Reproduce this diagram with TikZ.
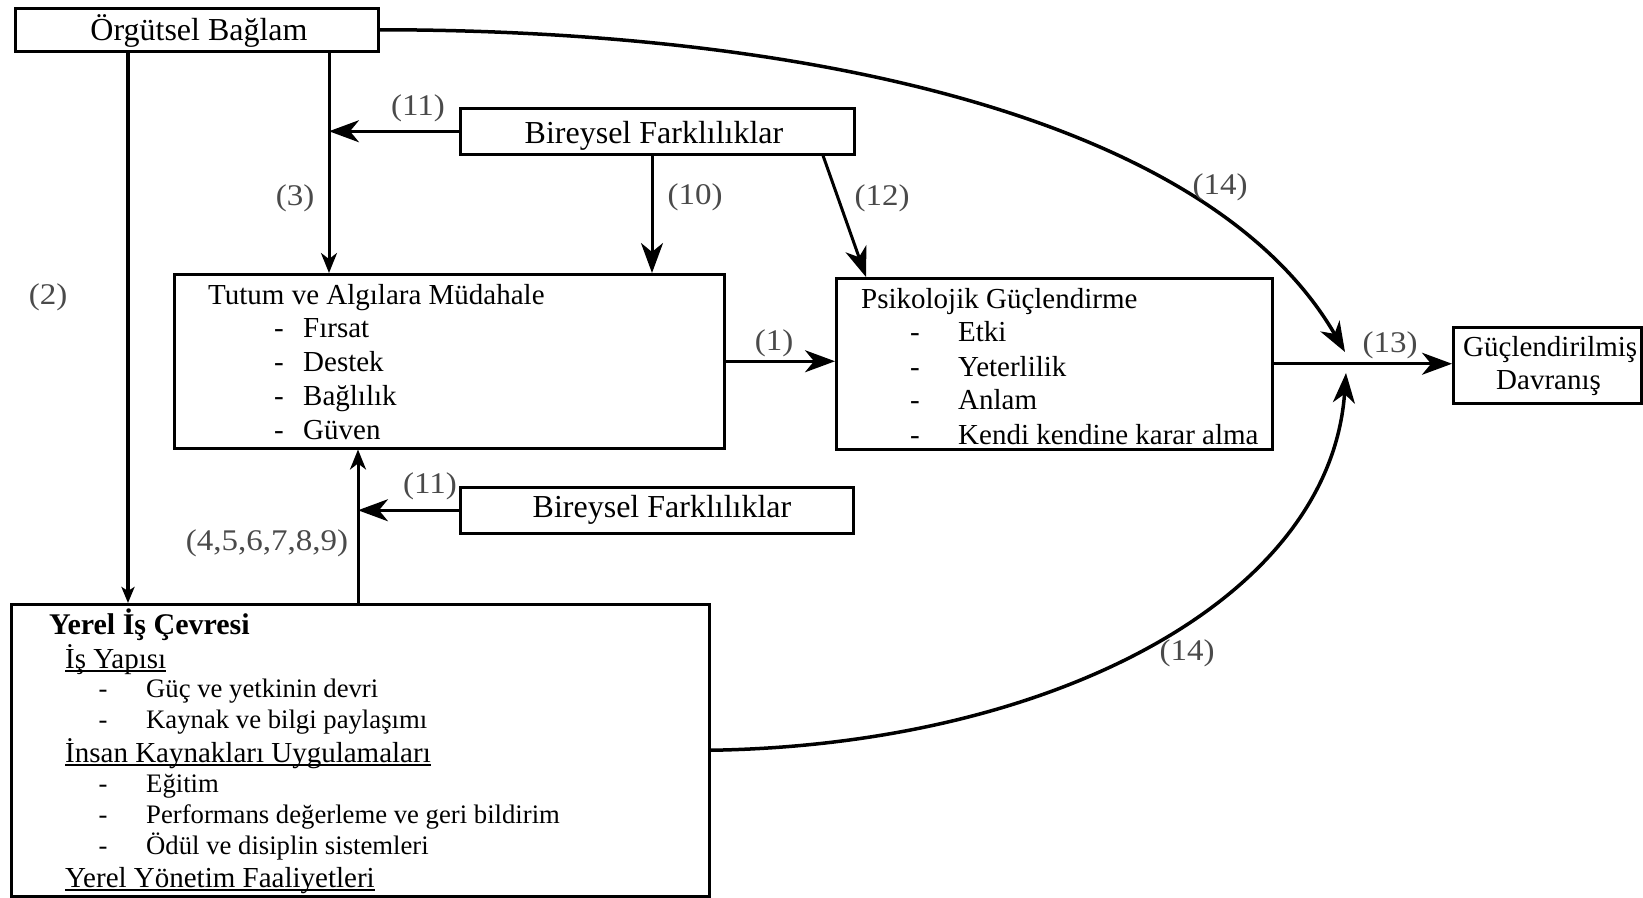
\documentclass[tikz,border=0pt]{standalone}
\usepackage{fontspec}
\setmainfont{Liberation Serif}
\usetikzlibrary{arrows.meta}
\definecolor{labc}{HTML}{4A4A4A}
\newlength\ulwidth
\newcommand\ulx[1]{\settowidth\ulwidth{#1}\rlap{\rule[-4pt]{\ulwidth}{1.8pt}}#1}
\begin{document}
\begin{tikzpicture}[x=1pt,y=-1pt,
  box/.style={draw, line width=2.5pt, inner sep=0pt, anchor=north west},
  txt/.style={inner sep=0pt, anchor=base west, font=\fontsize{29}{31}\selectfont},
  bigt/.style={inner sep=0pt, anchor=base, font=\fontsize{32}{34}\selectfont},
  smt/.style={inner sep=0pt, anchor=base west, font=\fontsize{26.7}{28}\selectfont},
  dsh/.style={inner sep=0pt, anchor=base},
  lab/.style={inner sep=0pt, text=labc, font=\fontsize{30}{32}\selectfont},
  conn/.style={line width=3pt},
  bigtip/.style={-{Stealth[length=30pt,width=22pt,inset=9pt]}},
  midtip/.style={-{Stealth[length=20pt,width=16pt,inset=6pt]}},
  smtip/.style={-{Stealth[length=16pt,width=13pt,inset=4pt]}}]
\useasboundingbox[fill=white] (0,0) rectangle (1643,897);

% ---- boxes
\node[box,minimum width=363pt,minimum height=43pt] (org) at (14,7) {};
\node[box,minimum width=394pt,minimum height=46pt] (bf1) at (459,107) {};
\node[box,minimum width=550pt,minimum height=174pt] (tut) at (173,273) {};
\node[box,minimum width=436pt,minimum height=171pt] (psy) at (835,277) {};
\node[box,minimum width=188pt,minimum height=76pt] (guc) at (1452,326) {};
\node[box,minimum width=393pt,minimum height=46pt] (bf2) at (459,486) {};
\node[box,minimum width=698pt,minimum height=292pt] (yer) at (10,603) {};

% ---- texts
\node[bigt] (orgT) at (199,40) {Örgütsel Bağlam};
\node[bigt] (bf1T) at (654,143) {Bireysel Farklılıklar};
\node[bigt] (bf2T) at (662,517) {Bireysel Farklılıklar};

\node[txt] (tutT) at (208,304) {Tutum ve Algılara Müdahale};
\node[txt,dsh] (tutD1) at (279,337.5) {-};
\node[txt] (tut1) at (303,337.5) {Fırsat};
\node[txt,dsh] (tutD2) at (279,371) {-};
\node[txt] (tut2) at (303,371) {Destek};
\node[txt,dsh] (tutD3) at (279,405.5) {-};
\node[txt] (tut3) at (303,405.5) {Bağlılık};
\node[txt,dsh] (tutD4) at (279,439) {-};
\node[txt] (tut4) at (303,439) {Güven};

\node[txt] (psyT) at (861,308) {Psikolojik Güçlendirme};
\node[txt,dsh] (psyD1) at (915,341.5) {-};
\node[txt] (psy1) at (958,341.5) {Etki};
\node[txt,dsh] (psyD2) at (915,376) {-};
\node[txt] (psy2) at (958,376) {Yeterlilik};
\node[txt,dsh] (psyD3) at (915,409.5) {-};
\node[txt] (psy3) at (958,409.5) {Anlam};
\node[txt,dsh] (psyD4) at (915,444) {-};
\node[txt] (psy4) at (958,444) {Kendi kendine karar alma};

\node[txt] (gucT1) at (1463,356) {Güçlendirilmiş};
\node[txt] (gucT2) at (1496,389) {Davranış};

\node[txt,font=\fontsize{30}{32}\selectfont\bfseries] (yerT) at (49,634.5) {Yerel İş Çevresi};
\node[txt] (yerH1) at (65,668) {\ulx{İş Yapısı}};
\node[smt,dsh] (yerD1) at (103,697) {-};
\node[smt] (yer1) at (146,697) {Güç ve yetkinin devri};
\node[smt,dsh] (yerD2) at (103,728) {-};
\node[smt] (yer2) at (146,728) {Kaynak ve bilgi paylaşımı};
\node[txt] (yerH2) at (65,762) {\ulx{İnsan Kaynakları Uygulamaları}};
\node[smt,dsh] (yerD3) at (103,792) {-};
\node[smt] (yer3) at (146,792) {Eğitim};
\node[smt,dsh] (yerD4) at (103,823) {-};
\node[smt] (yer4) at (146,823) {Performans değerleme ve geri bildirim};
\node[smt,dsh] (yerD5) at (103,854) {-};
\node[smt] (yer5) at (146,854) {Ödül ve disiplin sistemleri};
\node[txt] (yerH3) at (65,887) {\ulx{Yerel Yönetim Faaliyetleri}};

% ---- helper coordinates
\coordinate (x2) at (128,0);
\coordinate (x3) at (329,0);
\coordinate (x10) at (652,0);
\coordinate (x12a) at (823,0);
\coordinate (x12b) at (866,0);
\coordinate (x49) at (358,0);
\coordinate (m1) at (1345,352);
\coordinate (m2) at (1346,373);

% ---- connectors
\draw[conn,line width=4pt,smtip] (org.south -| x2) -- (yer.north -| x2);
\draw[conn,midtip] (org.south -| x3) -- (tut.north -| x3);
\draw[conn,bigtip] (bf1.west) -- (bf1.west -| x3);
\draw[conn,bigtip] (bf1.south -| x10) -- (tut.north -| x10);
\draw[conn,bigtip] (bf1.south -| x12a) -- (psy.north -| x12b);
\draw[conn,bigtip] (tut.east) -- (tut.east -| psy.west);
\draw[conn,bigtip] (psy.east) -- (psy.east -| guc.west);
\draw[conn,bigtip] (bf2.west) -- (bf2.west -| x49);
\draw[conn,midtip] (yer.north -| x49) -- (tut.south -| x49);
\draw[conn,line width=3.5pt,bigtip] (org.east) .. controls (800,30) and (1208,115) .. (m1);
\draw[conn,line width=3.5pt,bigtip] (yer.east) .. controls (1050,745) and (1330,600) .. (m2);

% ---- labels
\node[lab] (l11a) at (418,108) {\scalebox{1.1}[1]{(11)}};
\node[lab] (l3) at (295,198) {\scalebox{1.1}[1]{(3)}};
\node[lab] (l10) at (695,197) {\scalebox{1.1}[1]{(10)}};
\node[lab] (l12) at (882,198) {\scalebox{1.1}[1]{(12)}};
\node[lab] (l14a) at (1220,187) {\scalebox{1.1}[1]{(14)}};
\node[lab] (l2) at (48,297) {\scalebox{1.1}[1]{(2)}};
\node[lab] (l1) at (774,343) {\scalebox{1.1}[1]{(1)}};
\node[lab] (l13) at (1390,345) {\scalebox{1.1}[1]{(13)}};
\node[lab] (l11b) at (430,486) {\scalebox{1.1}[1]{(11)}};
\node[lab] (l49) at (267,543) {\scalebox{1.1}[1]{(4,5,6,7,8,9)}};
\node[lab] (l14b) at (1187,653) {\scalebox{1.1}[1]{(14)}};
\end{tikzpicture}
\end{document}
